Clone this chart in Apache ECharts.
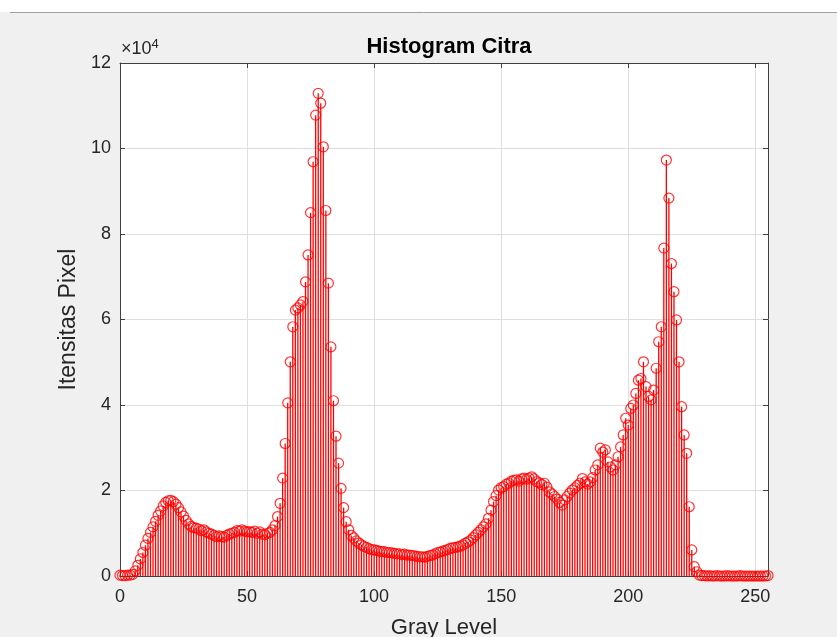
<!DOCTYPE html>
<html>
<head>
<meta charset="utf-8">
<script src="https://cdn.jsdelivr.net/npm/echarts@6/dist/echarts.min.js"></script>
<style>
html, body { margin: 0; padding: 0; background: #f0f0f0; }
#chart { width: 837px; height: 637px; }
</style>
</head>
<body>
<div id="chart"></div>
<script>
// gray levels 0..255 (x positions of the stems)
const grayLevels = Array.from({ length: 256 }, (_, i) => i)

// pixel counts, in units of 10^4
const pixelCounts = [
  0.02, 0.01, 0.01, 0.02, 0.02, 0.04, 0.12, 0.25, 0.40, 0.55,
  0.72, 0.88, 1.02, 1.15, 1.28, 1.42, 1.52, 1.64, 1.72, 1.76,
  1.77, 1.74, 1.68, 1.60, 1.50, 1.40, 1.30, 1.22, 1.16, 1.13,
  1.12, 1.10, 1.06, 1.08, 1.03, 1.00, 0.98, 0.95, 0.92, 0.94,
  0.92, 0.91, 0.95, 0.98, 1.00, 1.02, 1.06, 1.05, 1.08, 1.05,
  1.03, 1.04, 1.02, 1.05, 1.00, 1.03, 0.98, 0.97, 1.00, 1.02,
  1.08, 1.18, 1.39, 1.70, 2.29, 3.10, 4.05, 5.01, 5.83, 6.22,
  6.27, 6.34, 6.42, 6.88, 7.51, 8.50, 9.69, 10.78, 11.29, 11.06,
  10.04, 8.55, 6.85, 5.36, 4.10, 3.27, 2.64, 2.05, 1.60, 1.27,
  1.08, 0.95, 0.89, 0.82, 0.77, 0.73, 0.69, 0.67, 0.64, 0.62,
  0.61, 0.60, 0.58, 0.57, 0.57, 0.55, 0.55, 0.54, 0.53, 0.52,
  0.52, 0.50, 0.51, 0.49, 0.49, 0.48, 0.47, 0.46, 0.45, 0.45,
  0.44, 0.46, 0.48, 0.49, 0.52, 0.55, 0.56, 0.58, 0.60, 0.62,
  0.65, 0.66, 0.67, 0.68, 0.70, 0.73, 0.77, 0.80, 0.84, 0.90,
  0.96, 1.02, 1.08, 1.15, 1.22, 1.35, 1.54, 1.74, 1.88, 2.01,
  2.07, 2.09, 2.15, 2.17, 2.22, 2.24, 2.25, 2.22, 2.27, 2.29,
  2.26, 2.29, 2.32, 2.27, 2.21, 2.18, 2.14, 2.17, 2.08, 1.97,
  1.92, 1.86, 1.80, 1.72, 1.66, 1.78, 1.86, 1.94, 2.01, 2.06,
  2.12, 2.17, 2.28, 2.20, 2.15, 2.20, 2.30, 2.48, 2.60, 2.99,
  2.90, 2.95, 2.67, 2.55, 2.48, 2.60, 2.79, 3.02, 3.30, 3.69,
  3.53, 3.92, 4.00, 4.27, 4.58, 4.62, 5.01, 4.43, 4.20, 4.12,
  4.35, 4.86, 5.48, 5.83, 7.67, 9.73, 8.84, 7.31, 6.65, 5.99,
  5.01, 3.96, 3.30, 2.87, 1.62, 0.61, 0.22, 0.10, 0.02, 0.01,
  0.01, 0.00, 0.01, 0.00, 0.00, 0.01, 0.00, 0.00, 0.00, 0.01,
  0.00, 0.00, 0.00, 0.00, 0.01, 0.00, 0.00, 0.00, 0.00, 0.00,
  0.00, 0.00, 0.00, 0.00, 0.00, 0.01
]

const xTicks = [0, 50, 100, 150, 200, 250]
const yTicks = [0, 2, 4, 6, 8, 10, 12]

const stemData = grayLevels.map((g, i) => [g, pixelCounts[i]])

let myChart = echarts.init(document.getElementById('chart'))

const axisColor = '#404040'
const textColor = '#262626'
const font = 'Liberation Sans, Arial, sans-serif'

let option = {
  backgroundColor: '#f0f0f0',
  animation: false,
  title: {
    text: 'Histogram Citra',
    left: 444,
    textAlign: 'center',
    top: 31,
    textStyle: { fontFamily: font, fontWeight: 'bold', fontSize: 22, color: '#000' }
  },
  grid: {
    left: 120,
    right: 69,
    top: 63,
    bottom: 61,
    outerBoundsMode: 'none',
    show: true,
    backgroundColor: '#fff',
    borderWidth: 0
  },
  xAxis: [
    {
      type: 'value',
      position: 'bottom',
      min: 0,
      max: 255,
      interval: 50,
      name: 'Gray Level',
      nameLocation: 'middle',
      nameGap: 41,
      nameTextStyle: { fontFamily: font, fontSize: 22, color: textColor },
      axisLine: { show: true, onZero: false, lineStyle: { color: axisColor, width: 1 } },
      axisTick: { show: true, inside: true, length: 5, lineStyle: { color: axisColor } },
      axisLabel: {
        showMaxLabel: false,
        margin: 12,
        fontFamily: font,
        fontSize: 18,
        color: textColor,
        formatter: v => (xTicks.includes(v) ? String(v) : '')
      },
      splitLine: { show: true, lineStyle: { color: '#dedede', width: 1 } }
    },
    {
      type: 'value',
      position: 'top',
      min: 0,
      max: 255,
      interval: 50,
      axisLine: { show: true, onZero: false, lineStyle: { color: axisColor, width: 1 } },
      axisTick: { show: true, inside: true, length: 5, lineStyle: { color: axisColor } },
      axisLabel: { show: false },
      splitLine: { show: false }
    }
  ],
  yAxis: [
    {
      type: 'value',
      position: 'left',
      min: 0,
      max: 12,
      interval: 2,
      name: 'Itensitas Pixel',
      nameLocation: 'middle',
      nameGap: 36,
      nameTextStyle: { fontFamily: font, fontSize: 23, color: textColor },
      axisLine: { show: true, onZero: false, lineStyle: { color: axisColor, width: 1 } },
      axisTick: { show: true, inside: true, length: 5, lineStyle: { color: axisColor } },
      axisLabel: {
        margin: 9,
        fontFamily: font,
        fontSize: 18,
        color: textColor,
        formatter: v => (yTicks.includes(v) ? String(v) : '')
      },
      splitLine: { show: true, lineStyle: { color: '#dedede', width: 1 } }
    },
    {
      type: 'value',
      position: 'right',
      min: 0,
      max: 12,
      interval: 2,
      axisLine: { show: true, onZero: false, lineStyle: { color: axisColor, width: 1 } },
      axisTick: { show: true, inside: true, length: 5, lineStyle: { color: axisColor } },
      axisLabel: { show: false },
      splitLine: { show: false }
    }
  ],
  graphic: [
    {
      type: 'rect',
      shape: { x: 0, y: 0, width: 837, height: 12 },
      style: { fill: '#ffffff' },
      silent: true
    },
    {
      type: 'line',
      shape: { x1: 10, y1: 12.5, x2: 837, y2: 12.5 },
      style: { stroke: '#a0a0a0', lineWidth: 1 },
      silent: true
    },
    {
      type: 'text',
      left: 121,
      top: 38,
      style: {
        text: '×10{sup|4}',
        fontFamily: font,
        fontSize: 18,
        fill: textColor,
        rich: { sup: { fontSize: 13, verticalAlign: 'top', padding: [0, 0, 9, 0], fill: textColor } }
      }
    }
  ],
  series: [
    {
      name: 'stem',
      type: 'bar',
      xAxisIndex: 0,
      yAxisIndex: 0,
      barWidth: 1.3,
      itemStyle: { color: '#ff0000' },
      silent: true,
      data: stemData
    },
    {
      name: 'marker',
      type: 'scatter',
      xAxisIndex: 0,
      yAxisIndex: 0,
      symbol: 'circle',
      symbolSize: 10,
      clip: false,
      itemStyle: { color: 'rgba(255,255,255,0)', borderColor: '#ff0000', borderWidth: 1.2 },
      silent: true,
      data: stemData
    }
  ]
}
myChart.setOption(option)
</script>
</body>
</html>
